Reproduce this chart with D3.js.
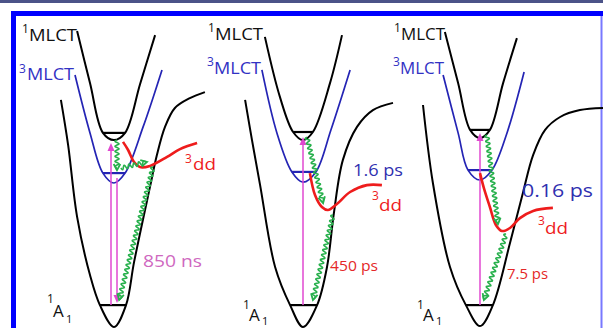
<!DOCTYPE html>
<html>
<head>
<meta charset="utf-8">
<script src="https://cdn.jsdelivr.net/npm/d3@7"></script>
<style>
  html, body { margin: 0; padding: 0; background: #fff; }
  text { font-family: "Open Sans", "Noto Sans", sans-serif; }
</style>
</head>
<body>
<div id="chart"></div>
<script>
// nuclear coordinate q vs energy E (arbitrary units), one entry per panel
const groundState = [
    [[-17.7, 75.7], [-15.3, 60.7], [-12.3, 36.7], [-8, 17.3], [-4.7, 7.3], [0, 0], [4, 7.3], [6.7, 21.7], [12, 46.7], [14.3, 57.3], [17, 66.7], [20.3, 73], [25.3, 76.3], [30.3, 78.3]],
    [[-19.3, 75.7], [-17, 62.3], [-14.3, 47.3], [-9.3, 20], [-4.3, 7.3], [0, 0], [4.7, 7.3], [8, 20], [10.3, 38], [13.3, 55.7], [18, 66.7], [23.3, 72.3], [30, 74.7]],
    [[-19, 74], [-15.7, 48], [-10, 20], [-4.7, 7.3], [0, 0.3], [4.3, 7.3], [10, 28], [14.3, 44.7], [17.7, 57.3], [21.7, 65.7], [26.7, 70], [33.3, 72.3], [41, 73]]
];
const singletMLCT = [
    [[-12.3, 98.7], [-8, 81.3], [-3.7, 64.7], [0, 62.3], [3.7, 64.7], [8.7, 81], [13.7, 97.3]],
    [[-12.7, 96.7], [-7.7, 76.7], [-3.3, 65], [0, 62.3], [3.3, 65], [9, 81.3], [13, 97.3]],
    [[-11.7, 98.3], [-7.3, 81.3], [-3.3, 65.7], [0, 63], [3.3, 65.7], [7.7, 81.3], [12.3, 96.3]]
];
const tripletMLCT = [
    [[-13, 84], [-8, 64.7], [-3.7, 51.3], [0, 48], [3.7, 51.3], [9.7, 66.7], [16, 85.7]],
    [[-13.7, 85.7], [-8.7, 64.7], [-3.7, 51.7], [0, 48.3], [4.3, 51.7], [9.3, 65.7], [15.7, 85.7]],
    [[-12.3, 84], [-7.3, 64.7], [-4, 52.3], [0, 49], [4, 52.3], [9, 64.7], [14.7, 85]]
];
const tripletDD = [
    [[3, 61.7], [4.7, 59], [6.7, 55], [8.7, 53.3], [12, 53.7], [17.7, 56.7], [22, 59.3], [27.7, 61.3]],
    [[2.3, 51.3], [4, 44], [6.3, 40], [8.3, 39], [11.3, 41], [15.7, 45], [21.3, 47.3], [26.3, 47.3]],
    [[0, 51.3], [1.3, 46.3], [3.3, 40], [5.3, 34], [7.3, 32], [10, 33], [13.3, 36.3], [17.7, 38.7], [24.3, 39.7]]
];
// vibrational levels [qLeft, qRight, E]
const singletLevel = [[-3.7, 3.7, 64.7], [-3.3, 3.3, 65], [-3.3, 3.3, 65.7]];
const tripletLevel = [[-3.7, 3.7, 51.3], [-3.7, 4.3, 51.7], [-4, 4, 52.3]];
const groundLevel = [[-4.7, 4, 7.3], [-4.3, 4.7, 7.3], [-4.7, 4.3, 7.3]];
// absorption [q, Efrom, Eto] and emission
const absorption = [[-1, 7.3, 61.3], [0, 7.3, 63.3], [0, 7.3, 64.7]];
const emission = [[1, 49.7, 8], null, null];
// non-radiative steps [q0, E0, q1, E1]
const relaxation = [
    [[1, 62.3, 1, 52.3], [2.3, 53, 11, 55], [13, 53.3, 1.7, 9]],
    [[1.3, 63.3, 6.7, 41.3], [10, 37.3, 3.3, 9]],
    [[2.3, 64, 6, 34.3], [8.7, 31, 1.3, 9]]
];
const iscTimes = [null, "1.6 ps", "0.16 ps"];
const decayTimes = ["850 ns", "450 ps", "7.5 ps"];

const width = 603;
const height = 328;
const panelCenters = [114, 303, 480];

const svg = d3.select('#chart').append('svg')
    .attr('width', width)
    .attr('height', height)
    .style('display', 'block');

svg.append('rect').attr('width', width).attr('height', height).attr('fill', '#fff');
svg.append('rect').attr('width', width).attr('height', 3).attr('fill', '#4b5388');
svg.append('path')
    .attr('d', `M13.5,${height} V13.5 H${width}`)
    .attr('fill', 'none').attr('stroke', '#0000ff').attr('stroke-width', 5);
svg.append('line')
    .attr('x1', 601.5).attr('x2', 601.5).attr('y1', 16).attr('y2', height)
    .attr('stroke', '#7878ff').attr('stroke-width', 2);

const y = d3.scaleLinear().domain([0, 100]).range([327, 27]);

const colors = {
    black: '#000',
    blue: '#2424b4',
    red: '#ee1c1c',
    green: '#27b04c',
    magenta: '#e048d0'
};

function wavy(g, x0, y0, x1, y1) {
    const dx = x1 - x0, dy = y1 - y0, len = Math.hypot(dx, dy);
    const ux = dx / len, uy = dy / len, nx = -uy, ny = ux;
    const pts = [];
    for (let s = 0; s <= len - 3; s += 0.5) {
        const a = 2 * Math.sin(s / 5 * 2 * Math.PI);
        pts.push([x0 + ux * s + nx * a, y0 + uy * s + ny * a]);
    }
    pts.push([x1, y1]);
    g.append('path').attr('d', d3.line()(pts))
        .attr('fill', 'none').attr('stroke', colors.green).attr('stroke-width', 1.6);
    const head = [-0.5, 0.5].map(t => {
        const c = Math.cos(t), s = Math.sin(t);
        return [x1 - 7 * (ux * c - uy * s), y1 - 7 * (uy * c + ux * s)];
    });
    g.append('path').attr('d', d3.line()([head[0], [x1, y1], head[1]]))
        .attr('fill', 'none').attr('stroke', colors.green).attr('stroke-width', 1.8);
}

function arrow(g, x, yFrom, yTo) {
    const dir = yTo < yFrom ? -1 : 1;
    g.append('line').attr('x1', x).attr('x2', x).attr('y1', yFrom).attr('y2', yTo - dir * 3)
        .attr('stroke', colors.magenta).attr('stroke-width', 1.5);
    g.append('path')
        .attr('d', `M${x},${yTo} L${x - 3.5},${yTo - dir * 8} L${x + 3.5},${yTo - dir * 8} Z`)
        .attr('fill', colors.magenta);
}

panelCenters.forEach((cx, i) => {
    const x = d3.scaleLinear().domain([-40, 40]).range([cx - 120, cx + 120]);
    const line = d3.line().x(d => x(d[0])).y(d => y(d[1])).curve(d3.curveCatmullRom);
    const g = svg.append('g');

    g.append('path').attr('d', line(groundState[i]))
        .attr('fill', 'none').attr('stroke', colors.black).attr('stroke-width', 2);
    g.append('path').attr('d', line(singletMLCT[i]))
        .attr('fill', 'none').attr('stroke', colors.black).attr('stroke-width', 2);
    g.append('path').attr('d', line(tripletMLCT[i]))
        .attr('fill', 'none').attr('stroke', colors.blue).attr('stroke-width', 1.7);

    [[singletLevel[i], colors.black], [tripletLevel[i], colors.blue], [groundLevel[i], colors.black]]
        .forEach(([lv, c]) => {
            g.append('line')
                .attr('x1', x(lv[0])).attr('x2', x(lv[1]))
                .attr('y1', y(lv[2])).attr('y2', y(lv[2]))
                .attr('stroke', c).attr('stroke-width', 2.2);
        });

    const ab = absorption[i];
    arrow(g, x(ab[0]), y(ab[1]), y(ab[2]));
    if (emission[i]) {
        const em = emission[i];
        arrow(g, x(em[0]), y(em[1]), y(em[2]));
    }

    g.append('path').attr('d', line(tripletDD[i]))
        .attr('fill', 'none').attr('stroke', colors.red).attr('stroke-width', 2.6);

    relaxation[i].forEach(r => wavy(g, x(r[0]), y(r[1]), x(r[2]), y(r[3])));
});

// labels
function label(txt, lx, ly, size, fill, len) {
    const t = svg.append('text').attr('x', lx).attr('y', ly)
        .attr('font-size', size).attr('fill', fill).text(txt);
    if (len) t.attr('textLength', len).attr('lengthAdjust', 'spacingAndGlyphs');
    return t;
}

const mlctPos = [
    { s1: [22, 33], m1: [29, 41, 48], s3: [19, 73], m3: [27, 80, 47] },
    { s1: [208, 32], m1: [215, 40, 48], s3: [207, 66], m3: [214, 74, 47] },
    { s1: [394, 32], m1: [401, 40, 44], s3: [393, 66], m3: [400, 74, 44] }
];
mlctPos.forEach(p => {
    label('1', p.s1[0], p.s1[1], 12, '#111');
    label('MLCT', p.m1[0], p.m1[1], 16, '#111', p.m1[2]);
    label('3', p.s3[0], p.s3[1], 12, '#3232c4');
    label('MLCT', p.m3[0], p.m3[1], 16, '#3232c4', p.m3[2]);
});

const groundPos = [[47, 303, 53, 317, 66, 323], [243, 309, 249, 321, 262, 325], [417, 309, 423, 321, 436, 325]];
groundPos.forEach(p => {
    label('1', p[0], p[1], 12, '#111');
    label('A', p[2], p[3], 17, '#111');
    label('1', p[4], p[5], 11, '#111');
});

const ddPos = [[185, 163, 193, 170], [372, 200, 379, 211], [538, 225, 545, 234]];
ddPos.forEach(p => {
    label('3', p[0], p[1], 12, colors.red);
    label('dd', p[2], p[3], 17, colors.red, 23);
});

label(decayTimes[0], 143, 267, 17, '#cf68bf', 59);
label(decayTimes[1], 330, 271, 14, '#e42828', 48);
label(decayTimes[2], 507, 279, 14, '#e42828', 41);
label(iscTimes[1], 353, 176, 17, '#3030b0', 50);
label(iscTimes[2], 522, 197, 18, '#3030b0', 71);
</script>
</body>
</html>
